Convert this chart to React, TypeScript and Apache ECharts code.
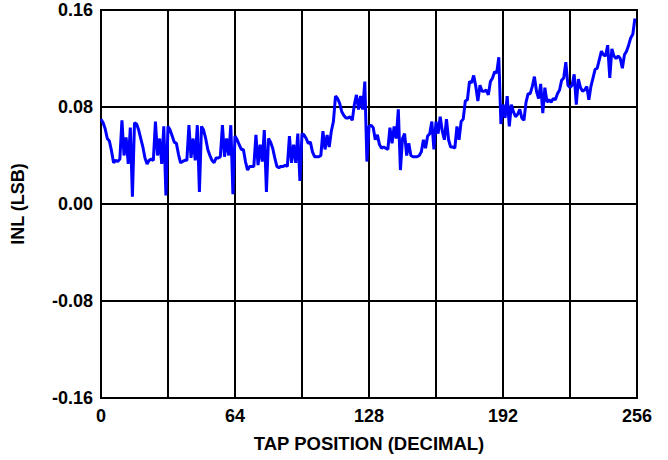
import React, { useEffect, useRef } from "react";
import * as echarts from "echarts";

// INL (LSB) for tap positions 0..255
const inlValues: number[] = [
  // 0-15
  0.070, 0.067, 0.062, 0.054, 0.052, 0.044, 0.034, 0.036, 0.035, 0.037, 0.069, 0.040, 0.055, 0.033, 0.063, 0.006,
  // 16-31
  0.067, 0.066, 0.061, 0.054, 0.047, 0.038, 0.033, 0.036, 0.037, 0.036, 0.068, 0.040, 0.054, 0.033, 0.064, 0.007,
  // 32-47
  0.064, 0.061, 0.056, 0.051, 0.050, 0.041, 0.034, 0.035, 0.036, 0.036, 0.065, 0.038, 0.054, 0.036, 0.065, 0.010,
  // 48-63
  0.064, 0.061, 0.054, 0.045, 0.040, 0.036, 0.034, 0.038, 0.038, 0.039, 0.065, 0.039, 0.054, 0.040, 0.065, 0.008,
  // 64-79
  0.056, 0.053, 0.049, 0.045, 0.045, 0.035, 0.028, 0.031, 0.031, 0.031, 0.057, 0.032, 0.049, 0.035, 0.061, 0.010,
  // 80-95
  0.054, 0.051, 0.046, 0.038, 0.031, 0.030, 0.031, 0.031, 0.032, 0.031, 0.056, 0.034, 0.049, 0.034, 0.058, 0.019,
  // 96-111
  0.058, 0.057, 0.054, 0.050, 0.051, 0.043, 0.039, 0.039, 0.039, 0.040, 0.060, 0.045, 0.057, 0.047, 0.060, 0.068,
  // 112-127
  0.089, 0.087, 0.083, 0.076, 0.073, 0.071, 0.071, 0.072, 0.069, 0.082, 0.090, 0.078, 0.089, 0.078, 0.101, 0.035,
  // 128-143
  0.064, 0.065, 0.063, 0.053, 0.057, 0.049, 0.046, 0.047, 0.046, 0.045, 0.063, 0.050, 0.064, 0.054, 0.078, 0.028,
  // 144-159
  0.054, 0.058, 0.040, 0.050, 0.040, 0.039, 0.039, 0.039, 0.040, 0.043, 0.053, 0.046, 0.056, 0.058, 0.068, 0.045,
  // 160-175
  0.068, 0.058, 0.072, 0.060, 0.053, 0.070, 0.053, 0.047, 0.047, 0.046, 0.064, 0.053, 0.068, 0.070, 0.085, 0.086,
  // 176-191
  0.101, 0.100, 0.106, 0.097, 0.085, 0.098, 0.093, 0.093, 0.094, 0.090, 0.101, 0.104, 0.109, 0.108, 0.121, 0.066,
  // 192-207
  0.082, 0.071, 0.089, 0.064, 0.082, 0.076, 0.072, 0.074, 0.078, 0.071, 0.069, 0.084, 0.091, 0.091, 0.097, 0.105,
  // 208-223
  0.093, 0.087, 0.099, 0.075, 0.096, 0.084, 0.086, 0.084, 0.087, 0.086, 0.091, 0.094, 0.102, 0.104, 0.117, 0.098,
  // 224-239
  0.096, 0.098, 0.107, 0.082, 0.103, 0.096, 0.093, 0.094, 0.097, 0.086, 0.097, 0.104, 0.111, 0.112, 0.119, 0.126,
  // 240-255
  0.123, 0.122, 0.131, 0.104, 0.128, 0.122, 0.120, 0.122, 0.120, 0.112, 0.123, 0.126, 0.131, 0.137, 0.140, 0.153,
];

const xTickLabels: number[] = [0, 64, 128, 192, 256];
const yTickLabels: number[] = [-0.16, -0.08, 0, 0.08, 0.16];

const FONT = "'Liberation Sans', Arial, sans-serif";

export default function App() {
  const ref = useRef<HTMLDivElement>(null);

  useEffect(() => {
    document.body.style.margin = "0";
    if (!ref.current) return;
    const chart = echarts.init(ref.current, undefined, { renderer: "svg" });
    const data = inlValues.map((v, i) => [i, v]);
    chart.setOption({
      animation: false,
      backgroundColor: "#ffffff",
      grid: {
        left: 101,
        right: 31,
        top: 10,
        bottom: 62,
        show: true,
        borderColor: "#000",
        borderWidth: 2,
        backgroundColor: "transparent",
      },
      xAxis: {
        type: "value",
        min: 0,
        max: 256,
        interval: 32,
        name: "TAP POSITION (DECIMAL)",
        nameLocation: "middle",
        nameGap: 36,
        nameTextStyle: { fontFamily: FONT, fontWeight: "bold", fontSize: 18.5, color: "#000" },
        axisLine: { show: true, lineStyle: { color: "#000", width: 2 } },
        axisTick: { show: false },
        splitLine: { show: true, lineStyle: { color: "#000", width: 2 } },
        axisLabel: {
          margin: 9,
          fontFamily: FONT,
          fontWeight: "bold",
          fontSize: 18,
          color: "#000",
          formatter: (v: number) => (xTickLabels.includes(v) ? String(v) : ""),
        },
      },
      yAxis: {
        type: "value",
        min: -0.16,
        max: 0.16,
        interval: 0.08,
        name: "INL (LSB)",
        nameLocation: "middle",
        nameGap: 74,
        nameRotate: 90,
        nameTextStyle: { fontFamily: FONT, fontWeight: "bold", fontSize: 18, color: "#000" },
        axisLine: { show: true, lineStyle: { color: "#000", width: 2 } },
        axisTick: { show: false },
        splitLine: { show: true, lineStyle: { color: "#000", width: 2 } },
        axisLabel: {
          margin: 8,
          fontFamily: FONT,
          fontWeight: "bold",
          fontSize: 18,
          color: "#000",
          formatter: (v: number) => {
            const hit = yTickLabels.find((t) => Math.abs(t - v) < 1e-6);
            if (hit === undefined) return "";
            return Math.abs(hit) < 1e-9 ? "0.00" : hit.toFixed(2);
          },
        },
      },
      series: [
        {
          type: "line",
          data,
          symbol: "none",
          lineStyle: { color: "#0000ff", width: 3 },
          z: 5,
        },
      ],
    });
    return () => chart.dispose();
  }, []);

  return <div ref={ref} style={{ width: 668, height: 460 }} />;
}
